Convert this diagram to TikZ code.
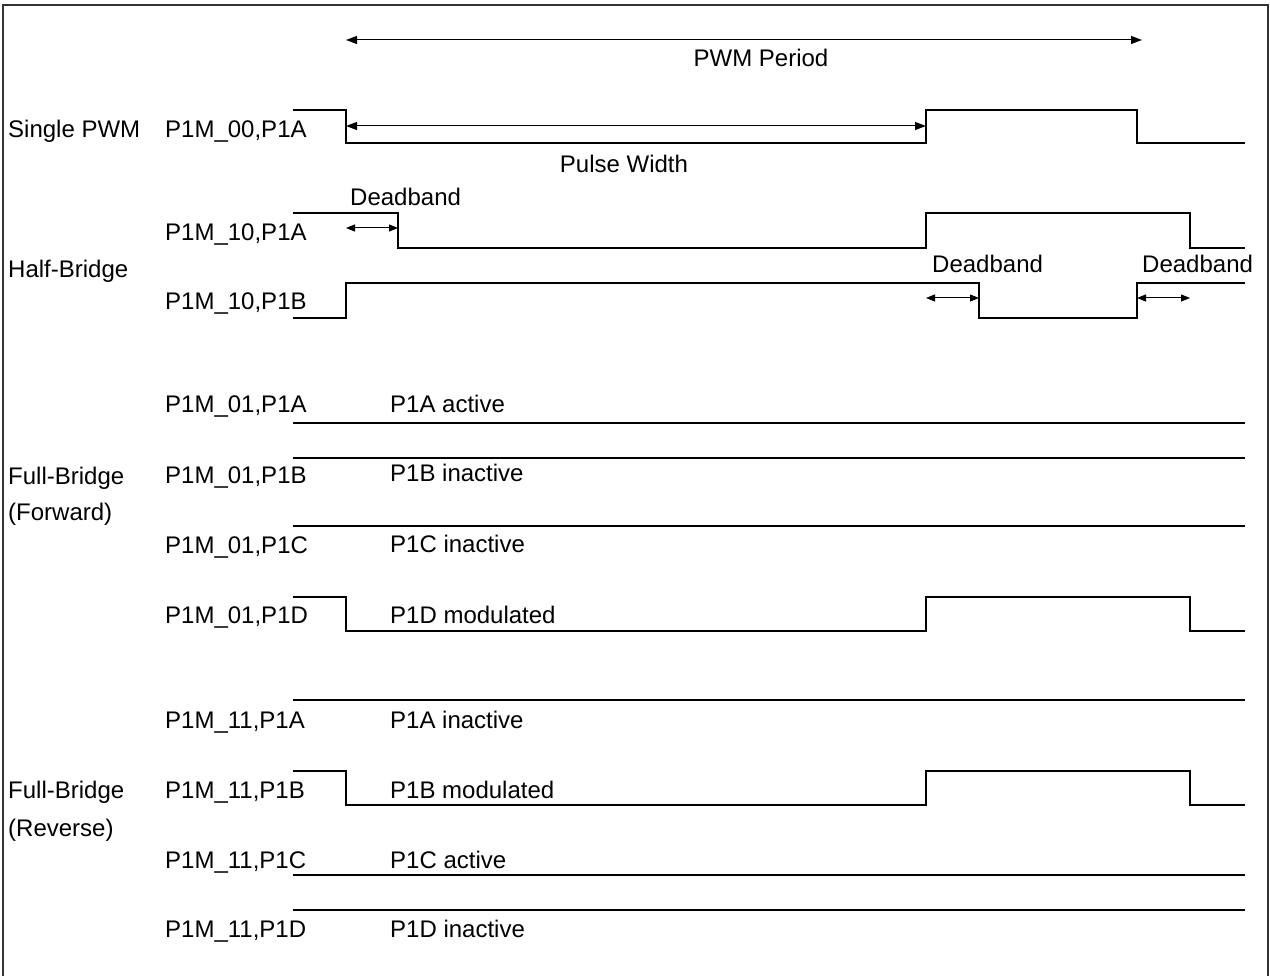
\documentclass[tikz,border=0pt]{standalone}
\usepackage{fontspec}
\setmainfont{Liberation Sans}
\usetikzlibrary{arrows.meta}
\begin{document}
\begin{tikzpicture}[x=1pt,y=-1pt,
  wave/.style={line width=2pt, line join=miter},
  flat/.style={line width=1.5pt},
  dim/.style={line width=1pt, {Triangle[length=11pt,width=8pt]}-{Triangle[length=11pt,width=8pt]}},
  dimsmall/.style={line width=1pt, {Triangle[length=9pt,width=7pt]}-{Triangle[length=9pt,width=7pt]}},
  lbl/.style={anchor=base west, inner sep=0pt, font=\fontsize{24}{28}\selectfont},
  clbl/.style={anchor=base, inner sep=0pt, font=\fontsize{24}{28}\selectfont}]
\useasboundingbox (0,0) rectangle (1270,976);
\draw[line width=2pt, draw=black!80] (3,990) -- (3,5) -- (1268,5) -- (1268,990);

% PWM period
\coordinate (pp1) at (346,40); \coordinate (pp2) at (1142,40);
\draw[dim] (pp1) -- (pp2);
\node[clbl] (tpp) at (761,67) {PWM Period};

% Single PWM
\node[lbl] (tsingle) at (8,138) {Single PWM};
\node[lbl] (t00a) at (165,138) {P1M\_00,P1A};
\draw[wave] (293,110) -- (346,110) -- (346,143) -- (926,143) -- (926,110) -- (1137,110) -- (1137,143) -- (1245,143);
\coordinate (pw1) at (346,126); \coordinate (pw2) at (926,126);
\draw[dim] (pw1) -- (pw2);
\node[clbl] (tpw) at (624,173) {Pulse Width};

% Half-bridge
\node[lbl] (tdb1) at (350,206) {Deadband};
\coordinate (db1a) at (346,228); \coordinate (db1b) at (398,228);
\draw[dimsmall] (db1a) -- (db1b);
\node[lbl] (t10a) at (165,241) {P1M\_10,P1A};
\draw[wave] (293,213) -- (398,213) -- (398,248) -- (926,248) -- (926,213) -- (1190,213) -- (1190,248) -- (1245,248);
\node[lbl] (thalf) at (8,278) {Half-Bridge};
\node[lbl] (tdb2) at (932,273) {Deadband};
\node[lbl] (tdb3) at (1142,273) {Deadband};
\node[lbl] (t10b) at (165,310) {P1M\_10,P1B};
\draw[wave] (293,318) -- (346,318) -- (346,283) -- (979,283) -- (979,318) -- (1137,318) -- (1137,283) -- (1245,283);
\coordinate (db2a) at (926,298); \coordinate (db2b) at (979,298);
\draw[dimsmall] (db2a) -- (db2b);
\coordinate (db3a) at (1137,298); \coordinate (db3b) at (1190,298);
\draw[dimsmall] (db3a) -- (db3b);

% Full-bridge forward
\node[lbl] (t01a) at (165,413) {P1M\_01,P1A};
\node[lbl] (s01a) at (390,413) {P1A active};
\draw[flat] (293,423) -- (1245,423);
\node[lbl] (tfwd1) at (8,484) {Full-Bridge};
\node[lbl] (tfwd2) at (8,520) {(Forward)};
\node[lbl] (t01b) at (165,483) {P1M\_01,P1B};
\node[lbl] (s01b) at (390,482) {P1B inactive};
\draw[flat] (293,458) -- (1245,458);
\node[lbl] (t01c) at (165,553) {P1M\_01,P1C};
\node[lbl] (s01c) at (390,552) {P1C inactive};
\draw[flat] (293,526) -- (1245,526);
\node[lbl] (t01d) at (165,623) {P1M\_01,P1D};
\node[lbl] (s01d) at (390,623) {P1D modulated};
\draw[wave] (293,597) -- (346,597) -- (346,631) -- (926,631) -- (926,597) -- (1190,597) -- (1190,631) -- (1245,631);

% Full-bridge reverse
\node[lbl] (t11a) at (165,728) {P1M\_11,P1A};
\node[lbl] (s11a) at (390,728) {P1A inactive};
\draw[flat] (293,700) -- (1245,700);
\node[lbl] (trev1) at (8,798) {Full-Bridge};
\node[lbl] (trev2) at (8,836) {(Reverse)};
\node[lbl] (t11b) at (165,798) {P1M\_11,P1B};
\node[lbl] (s11b) at (390,798) {P1B modulated};
\draw[wave] (293,771) -- (346,771) -- (346,805) -- (926,805) -- (926,771) -- (1190,771) -- (1190,805) -- (1245,805);
\node[lbl] (t11c) at (165,868) {P1M\_11,P1C};
\node[lbl] (s11c) at (390,868) {P1C active};
\draw[flat] (293,875) -- (1245,875);
\node[lbl] (t11d) at (165,937) {P1M\_11,P1D};
\node[lbl] (s11d) at (390,937) {P1D inactive};
\draw[flat] (293,910) -- (1245,910);
\end{tikzpicture}
\end{document}
